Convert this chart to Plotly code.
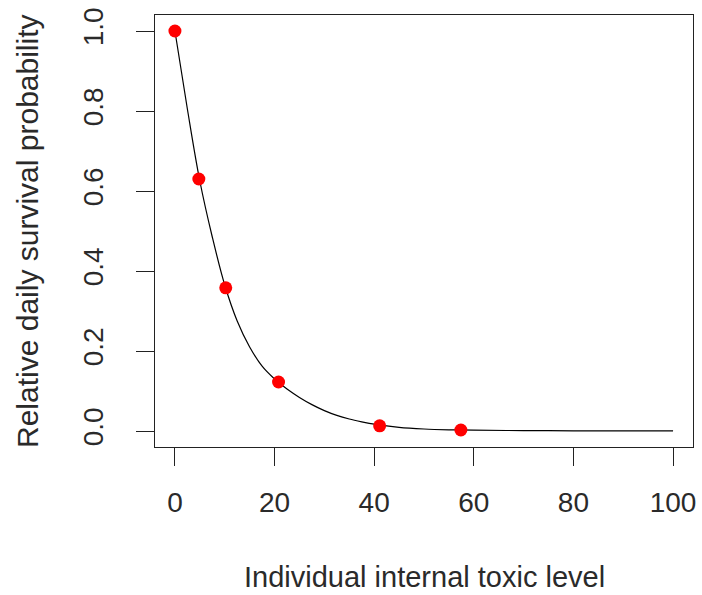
import plotly.graph_objects as go

# Observed data points (red dots)
obs_x = [0.0, 4.8, 10.2, 20.8, 41.1, 57.4]
obs_y = [1.0, 0.63, 0.358, 0.1225, 0.013, 0.0025]

# Fitted curve
curve_x = [0, 2.5, 5, 7.5, 10, 12.5, 15, 17.5, 20, 22.5, 25, 27.5, 30, 32.5, 35, 37.5, 40, 45, 50, 55, 60, 70, 80, 90, 100]
curve_y = [1.0, 0.805, 0.625, 0.485, 0.365, 0.275, 0.21, 0.162, 0.13, 0.105, 0.084, 0.066, 0.051, 0.039, 0.03, 0.023, 0.017, 0.009, 0.005, 0.003, 0.002, 0.001, 0.0005, 0.0002, 0.0001]

x_ticks = [0, 20, 40, 60, 80, 100]
y_ticks = [0.0, 0.2, 0.4, 0.6, 0.8, 1.0]
y_tick_text = ["0.0", "0.2", "0.4", "0.6", "0.8", "1.0"]

x_title = "Individual internal toxic level"
y_title = "Relative daily survival probability"

FONT = "Liberation Sans, Arial, sans-serif"
TXT = "#2a2a2a"

fig = go.Figure()
fig.add_trace(go.Scatter(x=curve_x, y=curve_y, mode="lines",
                         line=dict(color="black", width=1.2), line_shape="spline",
                         showlegend=False, hoverinfo="skip"))
fig.add_trace(go.Scatter(x=obs_x, y=obs_y, mode="markers",
                         marker=dict(color="red", size=13, line=dict(width=0)),
                         showlegend=False))

fig.update_layout(
    width=702, height=595,
    margin=dict(l=155, r=6, t=15, b=148),
    paper_bgcolor="white", plot_bgcolor="white",
    font=dict(family=FONT, size=28, color=TXT),
    xaxis=dict(range=[-4, 104], tickvals=x_ticks, ticks="outside", ticklen=18,
               tickwidth=1.3, tickcolor="#222", showgrid=False, zeroline=False,
               showline=True, linecolor="#222", linewidth=1.3, mirror=True,
               tickfont=dict(size=28, color=TXT), ticklabelstandoff=12),
    yaxis=dict(range=[-0.04, 1.04], tickvals=y_ticks, ticktext=y_tick_text,
               ticks="outside", ticklen=18, tickwidth=1.3, tickcolor="#222",
               showgrid=False, zeroline=False, showline=True, linecolor="#222",
               linewidth=1.3, mirror=True, tickangle=-90,
               tickfont=dict(size=28, color=TXT), ticklabelstandoff=22),
    annotations=[
        dict(text=x_title, xref="paper", yref="paper", x=0.5, y=0,
             yshift=-130, xanchor="center", yanchor="middle", showarrow=False,
             font=dict(size=29, color=TXT)),
        dict(text=y_title, xref="paper", yref="paper", x=0, y=0.5,
             xshift=-128, xanchor="center", yanchor="middle", showarrow=False,
             textangle=-90, font=dict(size=30, color=TXT)),
    ],
)

fig.write_html("out.html")
